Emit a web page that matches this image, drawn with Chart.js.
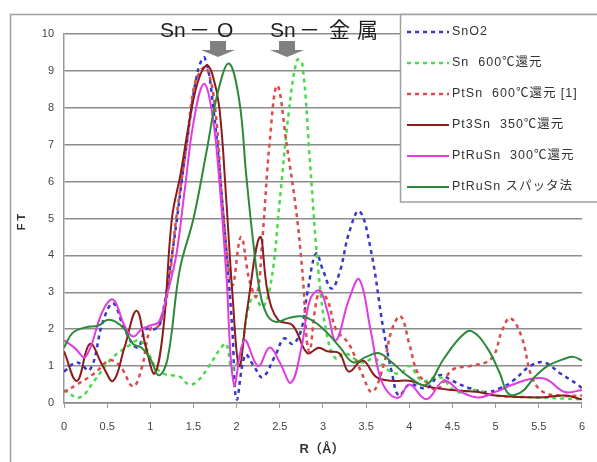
<!DOCTYPE html>
<html>
<head>
<meta charset="utf-8">
<script src="https://cdn.jsdelivr.net/npm/chart.js@4"></script>
<style>
  html, body { margin: 0; padding: 0; background: #fff; }
  canvas { display: block; }
</style>
</head>
<body>
<canvas id="ftChart" width="597" height="462"></canvas>
<script>
// series: R (Å) positions and FT values
const rSnO2 = [0, 0.15, 0.3, 0.45, 0.57, 0.7, 0.85, 0.95, 1.05, 1.12, 1.25, 1.42, 1.55, 1.63, 1.73, 1.85, 1.95, 2.0, 2.1, 2.2, 2.3, 2.45, 2.55, 2.65, 2.75, 2.82, 2.92, 3.0, 3.1, 3.2, 3.3, 3.42, 3.55, 3.7, 3.8, 3.88, 4.0, 4.2, 4.35, 4.5, 4.7, 4.9, 5.05, 5.2, 5.4, 5.56, 5.75, 5.95, 6.0];
const ftSnO2 = [0.85, 1.1, 0.9, 2.2, 2.7, 2.0, 1.5, 2.0, 2.0, 2.2, 4.0, 7.0, 9.0, 9.35, 8.0, 5.0, 2.0, 0.1, 1.3, 1.0, 0.7, 1.3, 1.75, 1.6, 2.0, 3.0, 4.05, 3.6, 3.1, 3.6, 4.6, 5.2, 4.2, 2.0, 0.8, 0.2, 0.5, 0.4, 0.75, 0.6, 0.4, 0.3, 0.4, 0.6, 1.0, 1.1, 0.8, 0.5, 0.4];

const rSn = [0, 0.18, 0.35, 0.55, 0.75, 0.87, 0.96, 1.05, 1.15, 1.25, 1.35, 1.45, 1.55, 1.68, 1.82, 1.88, 1.95, 2.05, 2.12, 2.2, 2.3, 2.4, 2.5, 2.6, 2.7, 2.76, 2.85, 2.95, 3.05, 3.15, 3.25, 3.45, 3.6, 3.75, 3.9, 4.0, 4.15, 4.35, 4.55, 4.75, 5.0, 5.5, 6.0];
const ftSn = [0.35, 0.15, 0.6, 1.2, 1.55, 1.7, 1.45, 1.0, 0.8, 0.75, 0.7, 0.5, 0.6, 1.0, 1.5, 1.6, 0.9, 1.4, 2.4, 2.9, 2.6, 3.3, 5.5, 7.8, 9.3, 9.2, 6.5, 3.5, 1.8, 1.2, 1.35, 1.1, 1.2, 0.9, 0.8, 1.0, 0.6, 0.7, 0.3, 0.35, 0.2, 0.15, 0.1];

const rPtSn = [0, 0.15, 0.35, 0.53, 0.65, 0.8, 0.9, 1.0, 1.1, 1.2, 1.3, 1.42, 1.5, 1.58, 1.65, 1.75, 1.85, 1.95, 2.05, 2.15, 2.23, 2.3, 2.38, 2.47, 2.58, 2.69, 2.76, 2.84, 2.95, 3.05, 3.15, 3.3, 3.45, 3.57, 3.7, 3.8, 3.9, 4.0, 4.1, 4.23, 4.32, 4.5, 4.7, 4.95, 5.08, 5.17, 5.3, 5.42, 5.55, 5.75, 6.0];
const ftPtSn = [0.3, 0.5, 0.8, 1.15, 1.0, 0.45, 0.95, 2.0, 2.1, 3.0, 5.0, 7.0, 8.5, 9.0, 9.1, 8.0, 5.0, 3.2, 4.5, 3.3, 2.9, 4.5, 7.0, 8.6, 7.0, 5.2, 3.6, 1.4, 3.0, 2.8, 2.0, 1.6, 0.8, 0.3, 1.0, 2.0, 2.35, 1.6, 0.8, 0.5, 0.35, 0.9, 1.0, 1.2, 2.0, 2.3, 1.8, 0.7, 0.3, 0.2, 0.2];

const rPt3Sn = [0, 0.15, 0.3, 0.45, 0.57, 0.7, 0.84, 0.95, 1.05, 1.15, 1.25, 1.35, 1.45, 1.55, 1.65, 1.72, 1.8, 1.88, 1.95, 2.03, 2.12, 2.27, 2.36, 2.48, 2.65, 2.82, 2.95, 3.05, 3.19, 3.3, 3.46, 3.62, 3.8, 4.0, 4.2, 4.5, 4.8, 5.0, 5.5, 5.8, 6.0];
const ftPt3Sn = [1.4, 0.6, 1.6, 1.0, 0.6, 1.5, 2.5, 1.5, 0.8, 2.0, 5.0, 6.2, 7.6, 8.7, 9.15, 8.9, 8.0, 5.5, 3.0, 1.0, 2.5, 4.5, 3.0, 2.25, 2.1, 1.35, 1.5, 1.4, 1.35, 0.85, 1.15, 0.7, 0.6, 0.6, 0.45, 0.35, 0.3, 0.2, 0.15, 0.2, 0.1];

const rPtRuSn = [0, 0.12, 0.25, 0.45, 0.57, 0.7, 0.8, 0.9, 1.0, 1.1, 1.2, 1.3, 1.4, 1.5, 1.62, 1.72, 1.8, 1.88, 1.97, 2.09, 2.25, 2.38, 2.5, 2.63, 2.75, 2.85, 2.96, 3.05, 3.15, 3.3, 3.42, 3.55, 3.65, 3.75, 3.88, 4.0, 4.2, 4.4, 4.6, 4.8, 5.0, 5.2, 5.4, 5.58, 5.8, 6.0];
const ftPtRuSn = [1.7, 1.5, 1.25, 2.5, 2.8, 2.1, 1.8, 2.0, 2.1, 2.2, 3.0, 4.0, 5.8, 7.6, 8.65, 7.8, 6.0, 3.5, 0.5, 1.7, 1.0, 1.5, 1.1, 0.55, 1.5, 2.8, 3.05, 2.5, 1.7, 2.8, 3.35, 2.0, 0.8, 0.3, 0.15, 0.5, 0.1, 0.6, 0.3, 0.15, 0.3, 0.5, 0.65, 0.65, 0.3, 0.35];

const rSputter = [0, 0.1, 0.25, 0.4, 0.5, 0.6, 0.7, 0.8, 0.9, 1.0, 1.1, 1.2, 1.34, 1.5, 1.65, 1.78, 1.91, 2.03, 2.11, 2.19, 2.27, 2.35, 2.45, 2.6, 2.75, 2.9, 3.05, 3.2, 3.35, 3.5, 3.65, 3.8, 4.0, 4.2, 4.4, 4.6, 4.72, 4.9, 5.05, 5.15, 5.3, 5.45, 5.6, 5.8, 5.9, 6.0];
const ftSputter = [1.5, 1.9, 2.05, 2.1, 2.25, 2.2, 2.0, 1.6, 1.5, 1.2, 0.75, 1.2, 3.6, 5.0, 6.8, 8.4, 9.2, 8.2, 6.2, 4.4, 3.0, 2.4, 2.2, 2.3, 2.35, 2.2, 1.9, 1.5, 1.1, 1.25, 1.35, 1.1, 0.7, 0.5, 1.2, 1.8, 1.95, 1.5, 0.8, 0.25, 0.3, 0.7, 1.0, 1.2, 1.25, 1.15];

const seriesNames = ["SnO2", "Sn  600℃還元", "PtSn  600℃還元 [1]", "Pt3Sn  350℃還元", "PtRuSn  300℃還元", "PtRuSn スパッタ法"];
const seriesR = [rSnO2, rSn, rPtSn, rPt3Sn, rPtRuSn, rSputter];
const seriesFT = [ftSnO2, ftSn, ftPtSn, ftPt3Sn, ftPtRuSn, ftSputter];
const seriesColors = ["#3838c8", "#4cd84c", "#dc4a4a", "#8a1c1c", "#e03ce0", "#2c8a3a"];
const seriesDashed = [true, true, true, false, false, false];

const yTicks = [0, 1, 2, 3, 4, 5, 6, 7, 8, 9, 10];

const datasets = seriesNames.map((name, i) => ({
  label: name,
  data: seriesR[i].map((r, j) => ({ x: r, y: seriesFT[i][j] })),
  borderColor: seriesColors[i],
  borderWidth: seriesDashed[i] ? 2.5 : 2,
  borderDash: seriesDashed[i] ? [4, 4] : [],
  pointRadius: 0,
  fill: false,
  tension: 0.4,
  order: seriesNames.length - i
}));

// draws text pieces at fixed left edges (the original font is wider)
function spaced(c, pieces, y) {
  pieces.forEach(p => c.fillText(p[0], p[1], y));
}

// frame, legend box, peak labels and axis titles
const decor = {
  id: "decor",
  beforeDraw(chart) {
    const c = chart.ctx;
    c.save();
    c.fillStyle = "#fff";
    c.fillRect(0, 0, chart.width, chart.height);
    c.restore();
  },
  afterDraw(chart) {
    const c = chart.ctx;
    c.save();

    c.strokeStyle = "#a0a0a0";
    c.lineWidth = 1.5;
    c.strokeRect(10.5, 14.5, 620, 480);

    // legend
    c.fillStyle = "#fff";
    c.fillRect(400, 14, 210, 188);
    c.strokeRect(400.5, 14.5, 220, 187.5);
    c.font = '12.5px "Liberation Sans", "Noto Sans CJK JP", sans-serif';
    c.letterSpacing = "1px";
    c.textBaseline = "middle";
    chart.data.datasets.forEach((ds, i) => {
      const y = 32 + i * 31;
      c.beginPath();
      c.strokeStyle = ds.borderColor;
      c.lineWidth = ds.borderWidth;
      c.setLineDash(ds.borderDash);
      c.moveTo(407, y);
      c.lineTo(449, y);
      c.stroke();
      c.setLineDash([]);
      c.fillStyle = "#333";
      c.fillText(ds.label, 452, y);
    });
    c.letterSpacing = "0px";

    // peak labels
    c.fillStyle = "#1e1e1e";
    c.font = '21px "Liberation Sans", "Noto Sans CJK JP", sans-serif';
    c.textBaseline = "middle";
    spaced(c, [["Sn", 160], ["－", 189], ["O", 217]], 31);
    spaced(c, [["Sn", 270], ["－", 299], ["金", 329], ["属", 357]], 31);

    c.fillStyle = "#808080";
    [218, 287].forEach(cx => {
      c.fillRect(cx - 8, 41, 16, 9);
      c.beginPath();
      c.moveTo(cx - 17, 50);
      c.lineTo(cx + 17, 50);
      c.lineTo(cx, 57);
      c.closePath();
      c.fill();
    });

    // axis titles
    c.fillStyle = "#333";
    c.font = 'bold 13px "Liberation Sans", "Noto Sans CJK JP", sans-serif';
    c.textAlign = "center";
    c.fillText("R（Å）", 322, 449);
    c.translate(22, 222);
    c.rotate(-Math.PI / 2);
    c.font = 'bold 11px "Liberation Sans", sans-serif';
    c.fillText("F T", 0, 0);

    c.restore();
  }
};

new Chart(document.getElementById("ftChart").getContext("2d"), {
  type: "line",
  data: { datasets: datasets },
  options: {
    responsive: false,
    animation: false,
    layout: { padding: { left: 0, top: 34, right: 14, bottom: 0 } },
    plugins: {
      legend: { display: false },
      tooltip: { enabled: false }
    },
    scales: {
      x: {
        type: "linear",
        min: 0,
        max: 6,
        ticks: {
          stepSize: 0.5,
          color: "#444",
          padding: 12,
          font: { family: "Liberation Sans", size: 11 },
          callback: v => String(v)
        },
        grid: { drawOnChartArea: false, tickLength: 5, color: "#999" },
        border: { color: "#888", width: 1.5 },
        afterFit(scale) { scale.height = 59; }
      },
      y: {
        min: 0,
        max: 10,
        afterBuildTicks(scale) { scale.ticks = yTicks.map(v => ({ value: v })); },
        ticks: {
          color: "#444",
          padding: 10,
          font: { family: "Liberation Sans", size: 11 }
        },
        grid: { color: "#8c8c8c", lineWidth: 1.5, drawTicks: false },
        border: { color: "#999", width: 1.5 },
        afterFit(scale) { scale.width = 64; }
      }
    }
  },
  plugins: [decor]
});
</script>
</body>
</html>
